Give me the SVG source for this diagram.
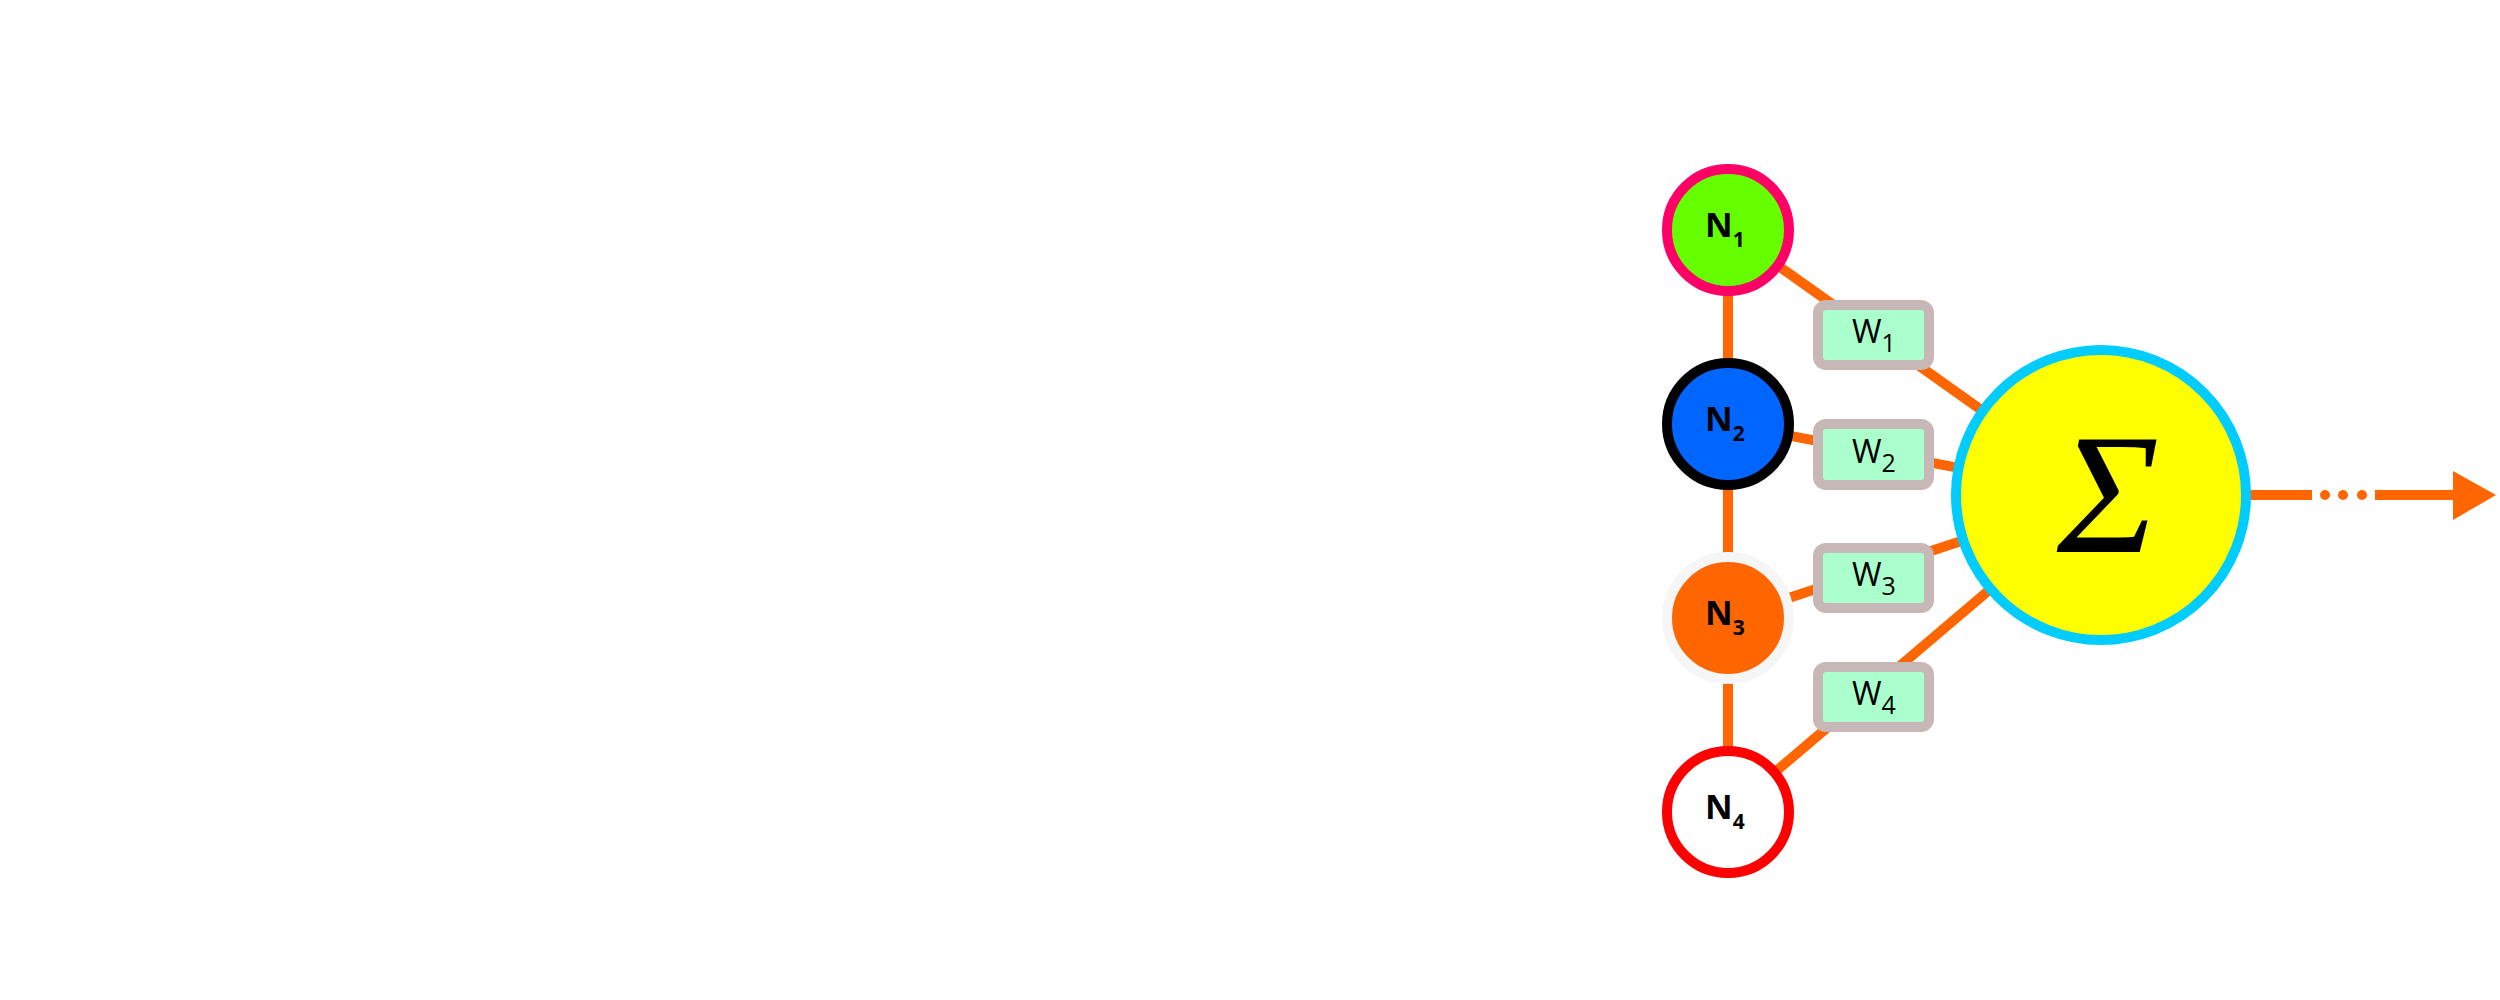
<svg xmlns="http://www.w3.org/2000/svg" width="2500" height="1000" viewBox="0 0 2500 1000">
<style>
.conn{stroke:#ff6600;stroke-width:10;fill:none}
.wbox{fill:#aaffcc;stroke:#c8b7b7;stroke-width:10}
.nlab{font-family:"Open Sans","DejaVu Sans",sans-serif;font-weight:bold;font-size:34px;fill:#000}
.nsub{font-size:21px}
.wlab{font-family:"Open Sans","DejaVu Sans",sans-serif;font-size:32px;fill:#000}
.wsub{font-size:25px}
</style>
<rect width="2500" height="1000" fill="#ffffff"/>
<g id="connectors">
<line class="conn" x1="1728" y1="230" x2="1728" y2="812"/>
<line class="conn" x1="1728" y1="230" x2="2101" y2="495"/>
<line class="conn" x1="1728" y1="424" x2="2101" y2="495"/>
<line class="conn" x1="1728" y1="618" x2="2101" y2="495"/>
<line class="conn" x1="1728" y1="812" x2="2101" y2="495"/>
<line class="conn" x1="2240" y1="495" x2="2312" y2="495"/>
<circle cx="2325" cy="495" r="5" fill="#ff6600"/>
<circle cx="2343" cy="495" r="5" fill="#ff6600"/>
<circle cx="2362" cy="495" r="5" fill="#ff6600"/>
<line class="conn" x1="2375" y1="495" x2="2455" y2="495"/>
<polygon points="2453,471 2496,495 2453,520" fill="#ff6600"/>
</g>
<g id="W1"><rect class="wbox" x="1818" y="305" width="111" height="60" rx="8"/><text class="wlab" x="1852" y="343">W<tspan class="wsub" dy="9">1</tspan></text></g>
<g id="W2"><rect class="wbox" x="1818" y="424" width="111" height="61" rx="8"/><text class="wlab" x="1852" y="463">W<tspan class="wsub" dy="9">2</tspan></text></g>
<g id="W3"><rect class="wbox" x="1818" y="548" width="111" height="60" rx="8"/><text class="wlab" x="1852" y="586">W<tspan class="wsub" dy="9">3</tspan></text></g>
<g id="W4"><rect class="wbox" x="1818" y="667" width="111" height="60" rx="8"/><text class="wlab" x="1852" y="705">W<tspan class="wsub" dy="9">4</tspan></text></g>
<g id="N1"><circle cx="1728" cy="230" r="61" fill="#66ff00" stroke="#ff0066" stroke-width="10"/><text class="nlab" x="1705" y="237">N<tspan class="nsub" dy="10">1</tspan></text></g>
<g id="N2"><circle cx="1728" cy="424" r="61" fill="#0066ff" stroke="#000000" stroke-width="10"/><text class="nlab" x="1705" y="431">N<tspan class="nsub" dy="10">2</tspan></text></g>
<g id="N3"><circle cx="1728" cy="618" r="61" fill="#ff6600" stroke="#f6f6f6" stroke-width="10"/><text class="nlab" x="1705" y="625">N<tspan class="nsub" dy="10">3</tspan></text></g>
<g id="N4"><circle cx="1728" cy="812" r="61" fill="#ffffff" stroke="#ff0000" stroke-width="10"/><text class="nlab" x="1705" y="819">N<tspan class="nsub" dy="10">4</tspan></text></g>
<g id="sum"><circle cx="2101" cy="495" r="145" fill="#ffff00" stroke="#00ccff" stroke-width="10"/><text x="2108" y="552" text-anchor="middle" font-family="Liberation Serif,serif" font-style="italic" font-size="172px" fill="#000">Σ</text></g>
</svg>
